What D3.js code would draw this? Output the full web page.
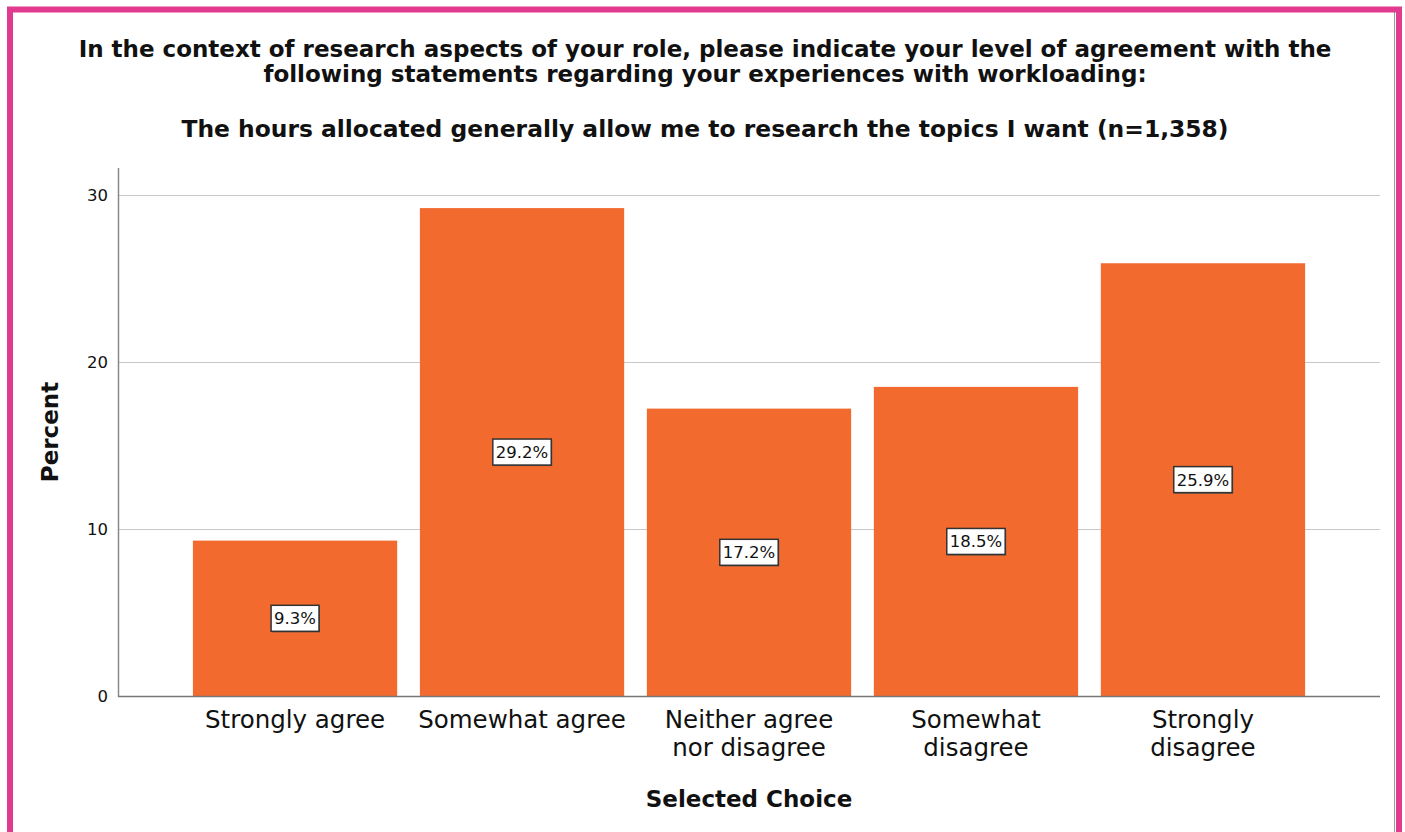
<!DOCTYPE html>
<html>
<head>
<meta charset="utf-8">
<script src="https://cdn.jsdelivr.net/npm/d3@7"></script>
<style>
  html, body { margin: 0; padding: 0; background: #fff; }
  svg { display: block; }
  text { font-family: "DejaVu Sans", Verdana, sans-serif; fill: #111; }
</style>
</head>
<body>
<svg id="chart" width="1405" height="832"></svg>
<script>
// Survey responses: share of respondents per answer
const categories = [
  "Strongly agree",
  "Somewhat agree",
  "Neither agree\nnor disagree",
  "Somewhat\ndisagree",
  "Strongly\ndisagree"
];
const percents = [9.3, 29.2, 17.2, 18.5, 25.9];
const yTicks = [0, 10, 20, 30];
const titleLines = [
  "In the context of research aspects of your role, please indicate your level of agreement with the",
  "following statements regarding your experiences with workloading:"
];
const subtitle = "The hours allocated generally allow me to research the topics I want (n=1,358)";
const xTitle = "Selected Choice";
const yTitle = "Percent";

const data = categories.map((c, i) => ({ cat: c, value: percents[i] }));

const W = 1405, H = 832;
const plot = { left: 118, right: 1380, top: 168, bottom: 696 };
const barColor = "#F26A2D";
const frameColor = "#E23A8F";

const svg = d3.select("#chart");

// frame
svg.append("rect").attr("x", 0).attr("y", 0).attr("width", W).attr("height", H).attr("fill", "#fff");
svg.append("line")
  .attr("x1", 1394.5).attr("x2", 1394.5).attr("y1", 12).attr("y2", H)
  .attr("stroke", "#999").attr("stroke-width", 1);
svg.append("path")
  .attr("d", `M10,${H + 10} L10,9.5 L1399,9.5 L1399,${H + 10}`)
  .attr("fill", "none").attr("stroke", frameColor).attr("stroke-width", 6);

// titles
const tCx = 705;
svg.append("text").attr("x", tCx).attr("y", 57).attr("text-anchor", "middle")
  .attr("font-size", 23).attr("font-weight", "bold").text(titleLines[0]);
svg.append("text").attr("x", tCx).attr("y", 82).attr("text-anchor", "middle")
  .attr("font-size", 23).attr("font-weight", "bold").text(titleLines[1]);
svg.append("text").attr("x", tCx).attr("y", 137).attr("text-anchor", "middle")
  .attr("font-size", 23.4).attr("font-weight", "bold").text(subtitle);

// scales
const x = d3.scaleBand()
  .domain(categories)
  .range([plot.left, plot.right])
  .paddingInner(0.1)
  .paddingOuter(0.33);

const y = d3.scaleLinear()
  .domain([0, 31.6])
  .range([plot.bottom, plot.top]);

// gridlines
svg.append("g")
  .selectAll("line")
  .data(yTicks.filter(t => t > 0))
  .join("line")
  .attr("x1", plot.left).attr("x2", plot.right)
  .attr("y1", d => Math.round(y(d)) + 0.5).attr("y2", d => Math.round(y(d)) + 0.5)
  .attr("stroke", "#c8c8c8").attr("stroke-width", 1.2);

// y axis
const yAxis = d3.axisLeft(y).tickValues(yTicks).tickSize(0).tickPadding(10).tickFormat(d3.format("d"));
const gy = svg.append("g").attr("transform", `translate(${plot.left},0)`).call(yAxis);
gy.select(".domain").remove();
gy.selectAll("text").attr("font-size", 16.5).attr("fill", "#222")
  .style("font-family", "'DejaVu Sans', Verdana, sans-serif");

// bars
svg.append("g")
  .selectAll("rect")
  .data(data)
  .join("rect")
  .attr("x", d => x(d.cat))
  .attr("width", x.bandwidth())
  .attr("y", d => y(d.value))
  .attr("height", d => y(0) - y(d.value))
  .attr("fill", barColor);

// axis lines
svg.append("line")
  .attr("x1", plot.left + 0.5).attr("x2", plot.left + 0.5)
  .attr("y1", plot.top).attr("y2", plot.bottom + 1)
  .attr("stroke", "#8a8a8a").attr("stroke-width", 1.5);
svg.append("line")
  .attr("x1", plot.left).attr("x2", plot.right)
  .attr("y1", plot.bottom + 0.5).attr("y2", plot.bottom + 0.5)
  .attr("stroke", "#777").attr("stroke-width", 1.5);

// value labels in boxes at mid-height of each bar
const lab = svg.append("g").selectAll("g")
  .data(data)
  .join("g")
  .attr("transform", d => `translate(${x(d.cat) + x.bandwidth() / 2},${y(d.value / 2)})`);
lab.each(function (d) {
  const g = d3.select(this);
  const t = g.append("text")
    .attr("text-anchor", "middle").attr("dy", "0.36em")
    .attr("font-size", 16.5).attr("fill", "#222")
    .text(d.value.toFixed(1) + "%");
  const bb = t.node().getBBox();
  const padX = 3, h = 26;
  g.insert("rect", "text")
    .attr("x", bb.x - padX + 1).attr("y", -h / 2 + 1)
    .attr("width", bb.width + padX * 2).attr("height", h)
    .attr("fill", "#555");
  g.insert("rect", "text")
    .attr("x", bb.x - padX).attr("y", -h / 2)
    .attr("width", bb.width + padX * 2).attr("height", h)
    .attr("fill", "#fff").attr("stroke", "#333").attr("stroke-width", 1.5);
});

// category labels (one text element per line)
const catG = svg.append("g");
categories.forEach(c => {
  c.split("\n").forEach((line, i) => {
    catG.append("text")
      .attr("x", x(c) + x.bandwidth() / 2)
      .attr("y", 728 + i * 27.5)
      .attr("text-anchor", "middle")
      .attr("font-size", 24.5)
      .attr("fill", "#111")
      .text(line);
  });
});

// axis titles
svg.append("text")
  .attr("x", 749).attr("y", 807)
  .attr("text-anchor", "middle")
  .attr("font-size", 23).attr("font-weight", "bold")
  .text(xTitle);
svg.append("text")
  .attr("transform", "translate(58,432) rotate(-90)")
  .attr("text-anchor", "middle")
  .attr("font-size", 23).attr("font-weight", "bold")
  .text(yTitle);
</script>
</body>
</html>
